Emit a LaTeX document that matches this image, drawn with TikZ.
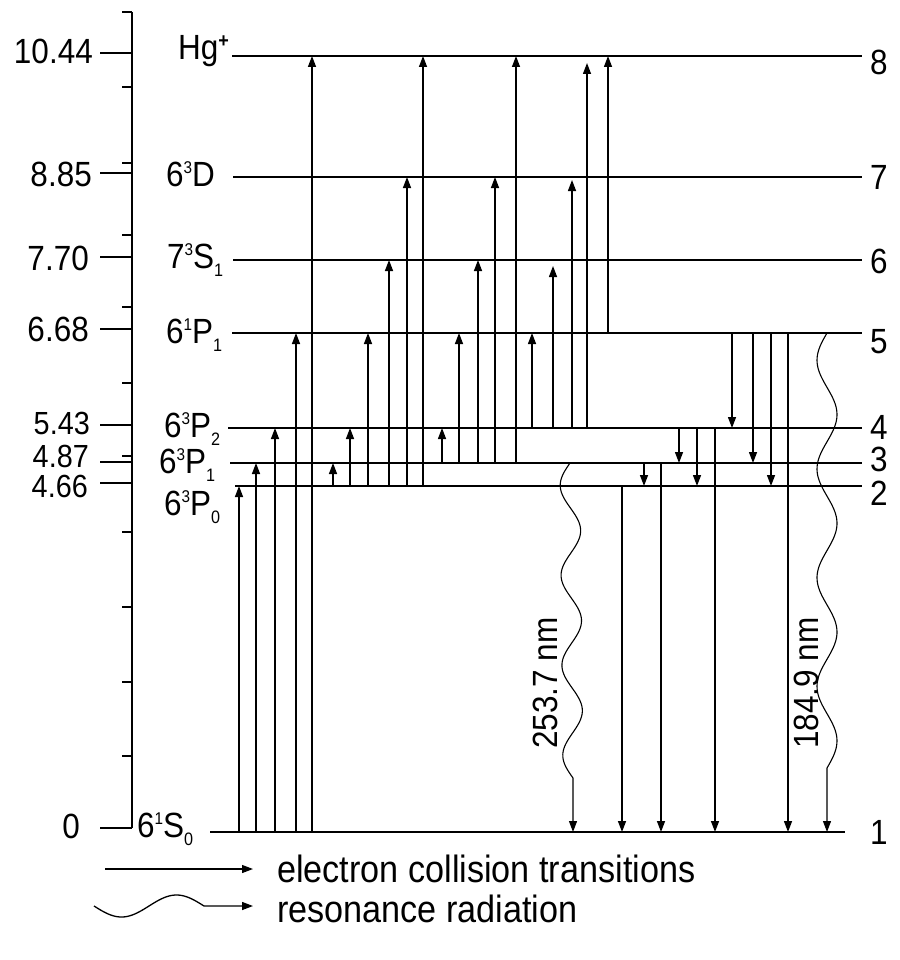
\documentclass[tikz,border=0pt]{standalone}
\usepackage{fontspec}
\setmainfont{Liberation Sans}[FakeStretch=0.9]
\usetikzlibrary{arrows.meta}
\newcommand\supx[1]{\raisebox{12.5pt}{\fontsize{17}{17}\selectfont #1}}
\newcommand\subx[1]{\raisebox{-8pt}{\fontsize{18}{18}\selectfont #1}}
\newcommand\tr[4][up]{\draw[#1] (#2,0 |- #3) -- (#2,0 |- #4);}
\begin{document}
\begin{tikzpicture}[x=1pt,y=-1pt,
  lvl/.style={line width=1.7pt},
  up/.style={line width=1.4pt,-{Triangle[length=11pt,width=8pt]}},
  wav/.style={line width=1.1pt,-{Triangle[length=11pt,width=8pt]}},
  tck/.style={line width=1.4pt},
  lbl/.style={inner sep=0pt,font=\fontsize{35}{40}\selectfont},
  slbl/.style={inner sep=0pt,font=\fontsize{32}{36}\selectfont}]
\useasboundingbox (0,0) rectangle (899,960);
% level heights
\coordinate (L1) at (0,832);
\coordinate (L2) at (0,486);
\coordinate (L3) at (0,463);
\coordinate (L4) at (0,428);
\coordinate (L5) at (0,333);
\coordinate (L6) at (0,260);
\coordinate (L7) at (0,177);
\coordinate (L8) at (0,56);
% axis
\draw[tck] (132,12) coordinate (axtop) -- (132,828) coordinate (axbot);
\foreach \yy in {12,87,163,235,307,383,456,532,607,682,756}
  \draw[tck] (122,\yy) -- (132,\yy);
\foreach \yy in {53,173,257,329,425,462,483,828}
  \draw[tck] (100,\yy) -- (132,\yy);
\node[lbl,anchor=east] (v1044) at (93,51) {10.44};
\node[lbl,anchor=east] (v885) at (92,174) {8.85};
\node[lbl,anchor=east] (v770) at (89,258) {7.70};
\node[lbl,anchor=east] (v668) at (89,329) {6.68};
\node[slbl,anchor=east] (v543) at (90,423) {5.43};
\node[slbl,anchor=east] (v487) at (89,456) {4.87};
\node[slbl,anchor=east] (v466) at (88,486) {4.66};
\node[lbl,anchor=east] (v0) at (80,826) {0};
% level lines
\draw[lvl] (232,0 |- L8) -- (862,0 |- L8);
\draw[lvl] (233,0 |- L7) -- (862,0 |- L7);
\draw[lvl] (233,0 |- L6) -- (862,0 |- L6);
\draw[lvl] (232,0 |- L5) -- (862,0 |- L5);
\draw[lvl] (228,0 |- L4) -- (862,0 |- L4);
\draw[lvl] (230,0 |- L3) -- (862,0 |- L3);
\draw[lvl] (235,0 |- L2) -- (862,0 |- L2);
\draw[lvl] (210,0 |- L1) -- (845,0 |- L1);
% level names
\node[lbl,anchor=base west] (nHg) at (178,60) {Hg\raisebox{12pt}{\fontsize{20}{20}\selectfont\bfseries +}};
\node[lbl,anchor=base west] (nD) at (166,186) {6\supx{3}D};
\node[lbl,anchor=base west] (nS1) at (167,268) {7\supx{3}S\subx{1}};
\node[lbl,anchor=base west] (nP11) at (166,343) {6\supx{1}P\subx{1}};
\node[lbl,anchor=base west] (nP2) at (164,437) {6\supx{3}P\subx{2}};
\node[lbl,anchor=base west] (nP1) at (159,473) {6\supx{3}P\subx{1}};
\node[lbl,anchor=base west] (nP0) at (164,515) {6\supx{3}P\subx{0}};
\node[lbl,anchor=base west] (nS0) at (137,837) {6\supx{1}S\subx{0}};
% right numbers
\node[lbl,anchor=west] (r8) at (870,62) {8};
\node[lbl,anchor=west] (r7) at (870,177) {7};
\node[lbl,anchor=west] (r6) at (870,261) {6};
\node[lbl,anchor=west] (r5) at (870,342) {5};
\node[lbl,anchor=west] (r4) at (870,427) {4};
\node[lbl,anchor=west] (r3) at (870,459) {3};
\node[lbl,anchor=west] (r2) at (870,493) {2};
\node[lbl,anchor=west] (r1) at (870,832) {1};
% upward transitions from ground
\tr{239}{L1}{L2}
\tr{256}{L1}{L3}
\tr{275}{L1}{L4}
\tr{296}{L1}{L5}
\tr{312}{L1}{L8}
% from 6^3P0
\tr{333}{L2}{L3}
\tr{350}{L2}{L4}
\tr{368}{L2}{L5}
\tr{389}{L2}{L6}
\tr{407}{L2}{L7}
\tr{423}{L2}{L8}
% from 6^3P1
\tr{442}{L3}{L4}
\tr{459}{L3}{L5}
\tr{478}{L3}{L6}
\tr{495}{L3}{L7}
\tr{516}{L3}{L8}
% from 6^3P2
\tr{532}{L4}{L5}
\tr[up,shorten >=6pt]{553}{L4}{L6}
\tr[up,shorten >=3pt]{572}{L4}{L7}
\tr[up,shorten >=7pt]{587}{L4}{L8}
% from 6^1P1
\tr{608}{L5}{L8}
% downward transitions
\tr{732}{L5}{L4}
\tr{753}{L5}{L3}
\tr{771}{L5}{L2}
\tr{788}{L5}{L1}
\tr{679}{L4}{L3}
\tr{697}{L4}{L2}
\tr{715}{L4}{L1}
\tr{644}{L3}{L2}
\tr{661}{L3}{L1}
\tr{622}{L2}{L1}
% resonance radiation
\coordinate (w1e) at (573,832);
\coordinate (w2e) at (827,832);
\draw[wav] plot[variable=\t,domain=463:778,samples=150]
  ({570+(\t-463)*0.0095-10*sin((\t-463)*4)},\t) -- (w1e);
\draw[wav] plot[variable=\t,domain=333:768,samples=160]
  ({827-10*sin((\t-333)*3.3103)},\t) -- (w2e);
\node[lbl,rotate=90] (t1) at (545,683) {253.7 nm};
\node[lbl,rotate=90] (t2) at (806,683) {184.9 nm};
% legend
\coordinate (g1s) at (105,869);
\coordinate (g1e) at (253,869);
\draw[up,line width=1.2pt] (g1s) -- (g1e);
\node[lbl,anchor=west,font=\fontsize{38}{42}\selectfont] (leg1) at (277,869) {electron collision transitions};
\coordinate (g2e) at (253,906);
\draw[wav,line width=1.3pt] plot[variable=\t,domain=94:204,samples=80]
  (\t,{906+11*sin((\t-94)*3.2727)}) -- (g2e);
\node[lbl,anchor=west,font=\fontsize{38}{42}\selectfont] (leg2) at (277,909) {resonance radiation};
\end{tikzpicture}
\end{document}
